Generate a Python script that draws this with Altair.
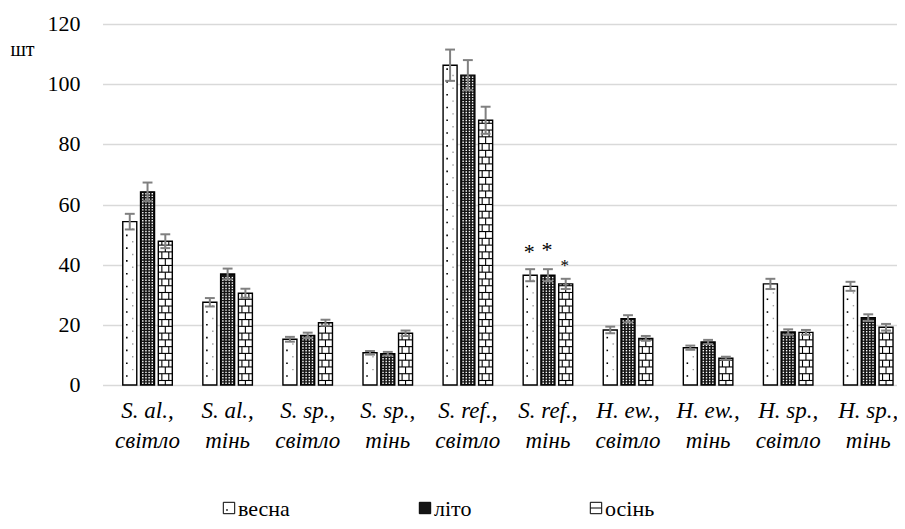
import altair as alt
import pandas as pd

# ---------------- data ----------------
line1 = ["S. al.,", "S. al.,", "S. sp.,", "S. sp.,", "S. ref.,", "S. ref.,",
         "H. ew.,", "H. ew.,", "H. sp.,", "H. sp.,"]
line2 = ["світло", "тінь", "світло", "тінь", "світло", "тінь",
         "світло", "тінь", "світло", "тінь"]
seasons = ["весна", "літо", "осінь"]

vesna = [54.3, 27.5, 15.2, 10.7, 106.3, 36.5, 18.3, 12.4, 33.6, 32.8]
vesna_err = [2.6, 1.4, 0.8, 0.6, 5.2, 2.0, 1.1, 0.7, 1.7, 1.5]
lito = [64.2, 36.9, 16.5, 10.4, 103.0, 36.5, 22.0, 14.3, 17.6, 22.4]
lito_err = [3.1, 1.8, 0.9, 0.6, 5.0, 2.0, 1.2, 0.7, 0.9, 1.1]
osin = [47.8, 30.5, 20.7, 17.2, 88.0, 33.6, 15.5, 8.9, 17.5, 19.2]
osin_err = [2.3, 1.5, 1.0, 0.9, 4.5, 1.7, 0.8, 0.5, 0.8, 1.1]

star_group = 5
star_y = [44.3, 44.9, 39.7]
star_size = [22, 22, 17]

y_ticks = [0, 20, 40, 60, 80, 100, 120]
y_title = "шт"

# ---------------- layout constants ----------------
PX = 81.1          # pixels per category step
W = 794.5
H = 361
XMIN = -0.5
XMAX = XMIN + W / PX
OFF = [-18.0, 0.0, 18.0]  # px offsets of the three seasons
BAR_W = 14
FONT = "Times New Roman"
LEG_X = [126.5, 322.5, 493.5]   # legend symbol centres (px from plot left)
LEG_Y = 484                     # legend row centre (px from plot top)
SEASON_FILL = ["white", "#141414", "white"]

series = [(vesna, vesna_err), (lito, lito_err), (osin, osin_err)]

rows = []
for i in range(len(line1)):
    for s, (vals, errs) in enumerate(series):
        xc = i + OFF[s] / PX
        rows.append(dict(x=xc, v=vals[i], lo=vals[i] - errs[i], hi=vals[i] + errs[i],
                         season=seasons[s], capl=xc - 5 / PX, capr=xc + 5 / PX))
bars = pd.DataFrame(rows)

# texture helpers (decoration inside the bars)
dots_k, dots_g, dots_w, brick_h, brick_v = [], [], [], [], []
for i in range(len(line1)):
    xc = i + OFF[0] / PX
    v = vesna[i]
    y = 3.0
    while y < v - 1.0:
        dots_k.append(dict(x=xc - 3 / PX, y=y))
        if y + 2.12 < v - 1.0:
            dots_g.append(dict(x=xc + 3 / PX, y=y + 2.12))
        y += 4.25
    xc = i + OFF[1] / PX
    v = lito[i]
    y = 0.6
    while y < v - 0.5:
        for o in (-4.8, -1.6, 1.6, 4.8):
            dots_w.append(dict(x=xc + o / PX, y=y))
        y += 0.9
    xc = i + OFF[2] / PX
    v = osin[i]
    levels = []
    y = 1.5
    while y < v - 0.3:
        levels.append(y)
        y += 2.25
    for yy in levels:
        brick_h.append(dict(x=xc - 7 / PX, x2=xc + 7 / PX, y=yy))
    bounds = [0.0] + levels + [v]
    for k in range(len(bounds) - 1):
        lo, hi = bounds[k], bounds[k + 1]
        offs = (0.0,) if k % 2 == 0 else (-3.5, 3.5)
        for o in offs:
            brick_v.append(dict(x=xc + o / PX, y=lo, y2=hi))

stars = pd.DataFrame(dict(
    x=[star_group + OFF[s] / PX - 1 / PX for s in range(3)],
    y=star_y, t=["*"] * 3, fs=star_size))

xlab = pd.DataFrame(dict(idx=list(range(len(line1))),
                         lab=[a + "\n" + b for a, b in zip(line1, line2)]))
ylab = pd.DataFrame(dict(v=y_ticks))

xs = alt.Scale(domain=[XMIN, XMAX], nice=False, zero=False)
ys = alt.Scale(domain=[0, 120], nice=False, zero=True)

xaxis = alt.Axis(labels=False, ticks=False, domain=False, grid=False, title=None)
yaxis = alt.Axis(values=y_ticks, labels=False, ticks=False, domain=False, title=None,
                 grid=True, gridColor="#d9d9d9", gridWidth=1.3)


def X(field="x"):
    return alt.X(f"{field}:Q", scale=xs, axis=xaxis)


def Y(field):
    return alt.Y(f"{field}:Q", scale=ys, axis=yaxis, stack=None)


fill_layer = alt.Chart(bars).mark_bar(width=BAR_W, orient="vertical", strokeWidth=0).encode(
    x=X(), y=Y("v"),
    fill=alt.Fill("season:N", scale=alt.Scale(domain=seasons, range=SEASON_FILL), legend=None),
)

tex_k = alt.Chart(pd.DataFrame(dots_k)).mark_square(size=2.5, color="black", opacity=1).encode(
    x=X(), y=Y("y"))
tex_g = alt.Chart(pd.DataFrame(dots_g)).mark_square(size=2.0, color="#a0a0a0", opacity=1).encode(
    x=X(), y=Y("y"))
tex_w = alt.Chart(pd.DataFrame(dots_w)).mark_square(size=2.0, color="white", opacity=1).encode(
    x=X(), y=Y("y"))
tex_h = alt.Chart(pd.DataFrame(brick_h)).mark_rule(color="black", strokeWidth=1.1).encode(
    x=X(), x2="x2:Q", y=Y("y"))
tex_v = alt.Chart(pd.DataFrame(brick_v)).mark_rule(color="black", strokeWidth=1.1).encode(
    x=X(), y=Y("y"), y2="y2:Q")

outline = alt.Chart(bars).mark_bar(width=BAR_W, orient="vertical", fillOpacity=0,
                                   stroke="black", strokeWidth=1.4).encode(
    x=X(), y=Y("v"))

err = alt.Chart(bars).mark_rule(color="#808080", strokeWidth=2).encode(
    x=X(), y=Y("lo"), y2="hi:Q")
cap_hi = alt.Chart(bars).mark_rule(color="#808080", strokeWidth=2).encode(
    x=X("capl"), x2="capr:Q", y=Y("hi"))
cap_lo = alt.Chart(bars).mark_rule(color="#808080", strokeWidth=2).encode(
    x=X("capl"), x2="capr:Q", y=Y("lo"))

star_layer = alt.Chart(stars).mark_text(font=FONT, color="black", baseline="middle",
                                        align="center").encode(
    x=X(), y=Y("y"), text="t:N", size=alt.Size("fs:Q", scale=None, legend=None))

# axis texts (drawn as text marks so that the serif font is honoured)
ylab_layer = alt.Chart(ylab).mark_text(font=FONT, fontSize=22, color="black",
                                       align="right", baseline="middle").encode(
    x=alt.value(-22), y=Y("v"), text="v:Q")
ytitle_layer = alt.Chart(pd.DataFrame(dict(t=[y_title]))).mark_text(
    font=FONT, fontSize=20, color="black", align="center", baseline="middle").encode(
    x=alt.value(-80), y=alt.value(26), text="t:N")
xlab_layer = alt.Chart(xlab).mark_text(font=FONT, fontStyle="italic", fontSize=23,
                                       color="black", align="center", baseline="top",
                                       lineBreak="\n", lineHeight=30).encode(
    x=X("idx"), y=alt.value(H + 15), text="lab:N")

# legend
legend_layers = []
for s in range(3):
    legend_layers.append(
        alt.Chart(pd.DataFrame(dict(t=[seasons[s]]))).mark_square(
            size=130, filled=True, fill=SEASON_FILL[s], stroke="black", strokeWidth=1,
            opacity=1).encode(x=alt.value(LEG_X[s]), y=alt.value(LEG_Y)))
    legend_layers.append(
        alt.Chart(pd.DataFrame(dict(t=[seasons[s]]))).mark_text(
            font=FONT, fontSize=22, color="black", align="left", baseline="middle").encode(
            x=alt.value(LEG_X[s] + 9), y=alt.value(LEG_Y + 1), text="t:N"))
legend_layers.append(
    alt.Chart(pd.DataFrame(dict(t=[seasons[2]]))).mark_rule(color="black", strokeWidth=1).encode(
        x=alt.value(LEG_X[2] - 5.5), x2=alt.value(LEG_X[2] + 5.5), y=alt.value(LEG_Y)))
legend_layers.append(
    alt.Chart(pd.DataFrame(dict(t=[seasons[0]]))).mark_square(
        size=2.5, color="black", opacity=1).encode(
        x=alt.value(LEG_X[0] - 2), y=alt.value(LEG_Y + 2)))

chart = alt.layer(fill_layer, tex_k, tex_g, tex_w, tex_h, tex_v, outline, err, cap_hi,
                  cap_lo, star_layer, ylab_layer, ytitle_layer, xlab_layer,
                  *legend_layers).properties(
    width=W, height=H,
    padding={"left": 94.5, "top": 16, "right": 0, "bottom": 136},
    autosize=alt.AutoSizeParams(type="none"),
    background="white",
).configure(font=FONT).configure_text(font=FONT).configure_view(stroke=None)

chart.save("out.html", embed_options={"renderer": "svg", "actions": False})
